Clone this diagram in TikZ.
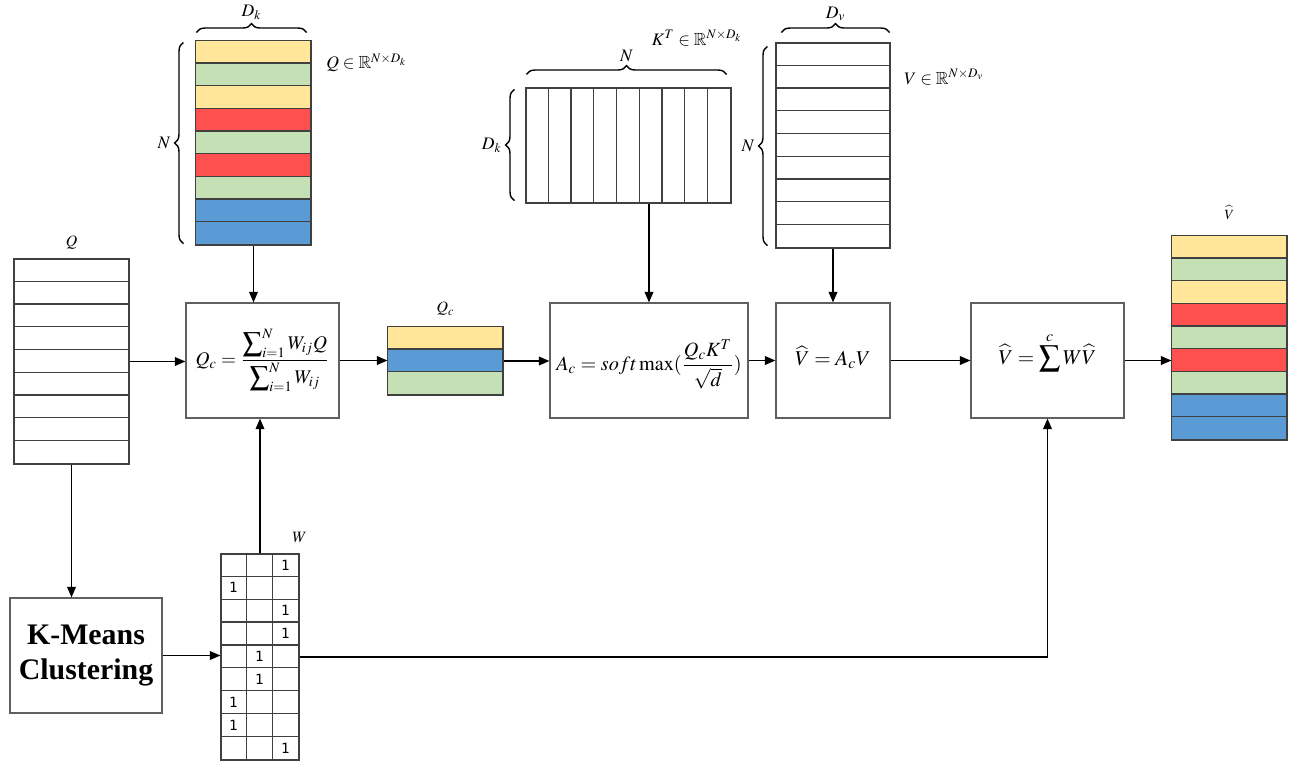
\documentclass[tikz,border=0pt]{standalone}
\usepackage{mathptmx}
\usepackage{amsmath,amssymb}
\usepackage{fontspec}
\setmainfont{Liberation Serif}
\newfontfamily\monofont{DejaVu Sans Mono}
\usetikzlibrary{arrows.meta,calc,decorations.pathreplacing}
\definecolor{cy}{HTML}{FFE699}
\definecolor{cg}{HTML}{C5E0B4}
\definecolor{cr}{HTML}{FF5050}
\definecolor{cb}{HTML}{5B9BD5}
\definecolor{cellc}{HTML}{404040}
\definecolor{boxc}{HTML}{606060}
\begin{document}
\begin{tikzpicture}[x=0.02cm, y=-0.02cm,
  mat/.style={draw=cellc, line width=0.7pt, inner sep=0, minimum width=2.3cm},
  cell/.style={draw=cellc, line width=0.7pt},
  box/.style={draw=boxc, line width=0.7pt, inner sep=0},
  arr/.style={-{Triangle[length=6pt,width=5pt]}, line width=0.7pt},
  brc/.style={decorate, decoration={brace, amplitude=5pt}, line width=0.8pt},
  lbl/.style={inner sep=0, font=\fontsize{10}{12}\selectfont},
  one/.style={inner sep=0, font=\monofont\fontsize{8}{10}\selectfont},
  eq/.style={inner sep=0, font=\fontsize{12}{14}\selectfont}]
  \useasboundingbox (0,0) rectangle (1295,762);

  % matrices
  \node[mat, minimum height=4.08cm] (qk) at (253.5,143) {};
  \foreach \c [count=\i from 0] in {cy,cg,cy,cr,cg,cr,cg,cb,cb}
    \draw[cell, fill=\c] ($(qk.north west)+(0,\i*22.67)$) rectangle ++(115,22.67);
  \node[mat, minimum height=4.1cm] (ql) at (71.5,361.5) {};
  \foreach \i in {1,...,8}
    \draw[cell] ($(ql.north west)+(0,\i*22.78)$) -- ++(115,0);
  \node[mat, minimum height=1.36cm] (qc) at (445.5,361) {};
  \foreach \c [count=\i from 0] in {cy,cb,cg}
    \draw[cell, fill=\c] ($(qc.north west)+(0,\i*22.67)$) rectangle ++(115,22.67);
  \node[mat, minimum width=4.1cm, minimum height=2.3cm] (kt) at (628.5,145.5) {};
  \foreach \i in {1,...,8}
    \draw[cell] ($(kt.north west)+(\i*22.78,0)$) -- ++(0,115);
  \node[mat, minimum width=2.28cm, minimum height=4.1cm] (v) at (833,145.5) {};
  \foreach \i in {1,...,8}
    \draw[cell] ($(v.north west)+(0,\i*22.78)$) -- ++(114,0);
  \node[mat, minimum height=4.08cm] (vo) at (1229.5,338) {};
  \foreach \c [count=\i from 0] in {cy,cg,cy,cr,cg,cr,cg,cb,cb}
    \draw[cell, fill=\c] ($(vo.north west)+(0,\i*22.67)$) rectangle ++(115,22.67);
  \node[mat, minimum width=1.56cm, minimum height=4.12cm] (w) at (260,657) {};
  \foreach \i in {1,...,8}
    \draw[cell] ($(w.north west)+(0,\i*22.89)$) -- ++(78,0);
  \foreach \i in {1,2}
    \draw[cell] ($(w.north west)+(\i*26,0)$) -- ++(0,206);
  \foreach \r/\c in {1/3,2/1,3/3,4/3,5/2,6/2,7/1,8/1,9/3}
    \node[one] (w\r) at ($(w.north west)+({\c*26-13},{\r*22.89-11.4})$) {1};

  % boxes
  \node[box, minimum width=3.06cm, minimum height=2.3cm] (qcf) at (262.5,360.5) {};
  \node[eq, font=\fontsize{11}{13}\selectfont] at (qcf) {$Q_c=\dfrac{\displaystyle\sum\nolimits_{i=1}^{N}W_{ij}Q}{\displaystyle\sum\nolimits_{i=1}^{N}W_{ij}}$};
  \node[box, minimum width=3.96cm, minimum height=2.3cm] (ac) at (649,360.5) {};
  \node[eq, font=\fontsize{11.5}{13}\selectfont] at ($(ac)+(0,4)$) {$A_c=soft\max(\dfrac{Q_cK^T}{\sqrt{d}})$};
  \node[box, minimum width=2.28cm, minimum height=2.3cm] (vb) at (833,360.5) {};
  \node[eq] at ($(vb)+(0,-3)$) {$\widehat{V}=A_cV$};
  \node[box, minimum width=3.06cm, minimum height=2.3cm] (vs) at (1047.5,360.5) {};
  \node[eq] at ($(vs)+(0,-8)$) {$\displaystyle\widehat{V}=\sum^{c}W\widehat{V}$};
  \node[box, minimum width=3.04cm, minimum height=2.3cm, align=center,
    font=\bfseries\fontsize{17}{20}\selectfont] (km) at (86,655.5) {K-Means\\Clustering};

  % braces and labels
  \draw[brc] ($(qk.north west)+(1,-8)$) -- ($(qk.north east)+(-5,-8)$)
    node[lbl, midway, above=7pt] {$D_k$};
  \draw[brc] ($(qk.south west)+(-12,-2)$) -- ($(qk.north west)+(-12,2)$)
    node[lbl, midway, left=7pt] {$N$};
  \node[lbl, anchor=west] (qkl) at (326,63) {$Q\in\mathbb{R}^{N\times D_k}$};
  \node[lbl, font=\fontsize{9}{11}\selectfont, above=5pt] (qlab) at (ql.north) {$Q$};
  \node[lbl, font=\fontsize{9}{11}\selectfont, above=6pt] (qclab) at (qc.north) {$Q_c$};
  \draw[brc] ($(kt.north west)+(1,-13)$) -- ($(kt.north east)+(-5,-13)$)
    node[lbl, midway, above=7pt] {$N$};
  \node[lbl] (ktl) at (697,38) {$K^T\in\mathbb{R}^{N\times D_k}$};
  \draw[brc] ($(kt.south west)+(-11,-3)$) -- ($(kt.north west)+(-11,2)$)
    node[lbl, midway, left=7pt] {$D_k$};
  \draw[brc] ($(v.north west)+(6,-10)$) -- ($(v.north east)+(-1,-10)$)
    node[lbl, midway, above=6pt] {$D_v$};
  \draw[brc] ($(v.south west)+(-8,-3)$) -- ($(v.north west)+(-8,4)$)
    node[lbl, midway, left=7pt] {$N$};
  \node[lbl, anchor=west] (vl) at (904,77) {$V\in\mathbb{R}^{N\times D_v}$};
  \node[lbl, font=\fontsize{9}{11}\selectfont, above=6pt] (wlab) at (w.north east) {$W$};
  \node[lbl, font=\fontsize{8}{10}\selectfont, above=9pt] (volab) at (vo.north) {$\widehat{V}$};

  % connectors
  \draw[arr] (qk.south) -- (qk.south |- qcf.north);
  \draw[arr] (ql.east) -- (ql.east -| qcf.west);
  \draw[arr] (ql.south) -- (ql.south |- km.north);
  \draw[arr] (km.east) -- (km.east -| w.west);
  \draw[arr] (w.north) -- (w.north |- qcf.south);
  \draw[arr] (qcf.east) -- (qcf.east -| qc.west);
  \draw[arr] (qc.east) -- (qc.east -| ac.west);
  \draw[arr] (ac.north |- kt.south) -- (ac.north);
  \draw[arr] (v.south) -- (vb.north);
  \draw[arr] (ac.east) -- (vb.west);
  \draw[arr] (vb.east) -- (vs.west);
  \draw[arr] (w.east) -| (vs.south);
  \draw[arr] (vs.east) -- (vs.east -| vo.west);
\end{tikzpicture}
\end{document}
